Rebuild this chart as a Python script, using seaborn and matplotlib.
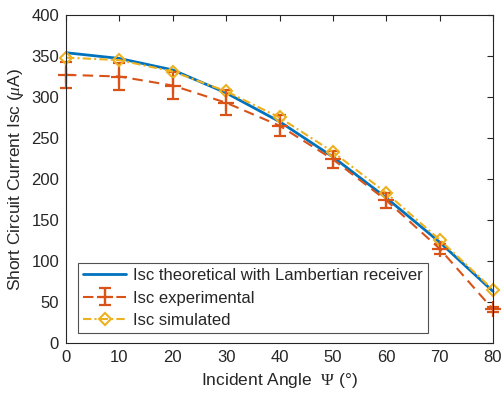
import matplotlib
matplotlib.use("Agg")
import matplotlib.pyplot as plt
import seaborn as sns
import pandas as pd
import numpy as np

angles = [0, 10, 20, 30, 40, 50, 60, 70, 80]
isc_theoretical = [354, 347, 333, 305, 270, 227, 177, 123, 63]
isc_experimental = [327, 325, 314, 293, 265, 224, 174, 115, 41]
isc_exp_err = [16, 16, 16, 15, 13, 10, 9, 6, 3]
isc_simulated = [348, 345, 331, 307, 275, 233, 183, 126, 65]

labels = ["Isc theoretical with Lambertian receiver", "Isc experimental", "Isc simulated"]

sns.set_style("white")
plt.rcParams['font.family'] = ['Liberation Sans', 'DejaVu Sans']
plt.rcParams['mathtext.fontset'] = 'custom'
plt.rcParams['mathtext.it'] = 'Liberation Serif:italic'
plt.rcParams['mathtext.rm'] = 'Liberation Serif'

fig = plt.figure(figsize=(5.01, 3.98), dpi=100)
ax = fig.add_axes([66/501, (398-343)/398, 427/501, 328/398])

c_blue = "#0072BD"
c_orange = "#D95319"
c_yellow = "#EDB120"

df = pd.DataFrame({"angle": angles, "theo": isc_theoretical, "sim": isc_simulated})

sns.lineplot(data=df, x="angle", y="theo", ax=ax, color=c_blue, linewidth=2.0,
             label=labels[0], legend=False, clip_on=False)
eb = ax.errorbar(angles, isc_experimental, yerr=isc_exp_err, color=c_orange,
                 linestyle=(0, (5, 3)), linewidth=1.5, marker='+', markersize=12,
                 markeredgewidth=1.6, capsize=4, elinewidth=1.6, capthick=1.6,
                 label=labels[1])
for art in eb.lines[0:1] + tuple(eb.lines[1]) + tuple(eb.lines[2]):
    art.set_clip_on(False)
sns.lineplot(data=df, x="angle", y="sim", ax=ax, color=c_yellow, linewidth=1.5,
             linestyle=(0, (4, 1.5, 1, 1.5)), marker='D', markersize=6,
             markerfacecolor='none', markeredgecolor=c_yellow, markeredgewidth=1.5,
             label=labels[2], legend=False, clip_on=False)

ax.set_xlim(0, 80)
ax.set_ylim(0, 400)
ax.set_xticks(range(0, 81, 10))
ax.set_yticks(range(0, 401, 50))
ax.set_xlabel("Incident Angle  $\\Psi$ (\u00b0)", fontsize=12.5, color="#262626", labelpad=4)
ax.set_ylabel("Short Circuit Current Isc ($\\mu$A)", fontsize=12.5, color="#262626", labelpad=4)
ax.tick_params(direction='in', length=4, width=0.8, labelsize=12,
               colors="#262626", top=True, right=True, pad=5)
for s in ax.spines.values():
    s.set_color("#262626")
    s.set_linewidth(0.8)

handles, labs = ax.get_legend_handles_labels()
order = [labs.index(l) for l in labels]
leg = ax.legend([handles[i] for i in order], [labs[i] for i in order],
                loc='lower left', bbox_to_anchor=(0.028, 0.03), fontsize=12,
                frameon=True, fancybox=False, edgecolor="#262626",
                handlelength=2.6, borderpad=0.3, labelspacing=0.45,
                handletextpad=0.4, borderaxespad=0)
leg.get_frame().set_linewidth(0.8)

fig.savefig("out.png", dpi=100)
